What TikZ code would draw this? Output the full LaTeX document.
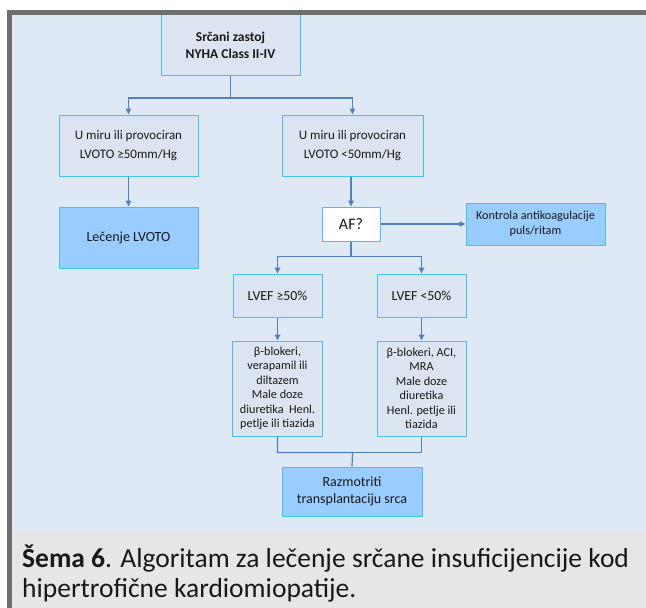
\documentclass[tikz,border=0pt]{standalone}
\usepackage{fontspec}
\setmainfont{Carlito}
\usetikzlibrary{positioning}
\usetikzlibrary {arrows.meta}
\definecolor{framegray}{HTML}{6E6E6E}
\definecolor{panelblue}{HTML}{DFE8F5}
\definecolor{boxfill}{HTML}{DBE4F0}
\definecolor{boxline}{HTML}{40C4F4}
\definecolor{actfill}{HTML}{99CCFF}
\definecolor{linkblue}{HTML}{4F81BD}
\definecolor{capgray}{HTML}{E6E6E6}
\tikzset{stepbox/.style={rectangle,draw=boxline,fill=boxfill,line width=1pt,
inner sep=2pt,align=center,text=black!90,font=\fontsize{13}{18.5}\selectfont}}
\tikzset{actbox/.style={stepbox,fill=actfill,font=\fontsize{14}{17}\selectfont}}
\tikzset{drugbox/.style={stepbox,minimum width=90pt,minimum height=95pt,
font=\fontsize{12.2}{14.5}\selectfont}}
\tikzset{link/.style={draw=linkblue,line width=1.2pt}}
\tikzset{linkarr/.style={link,-{Triangle[length=6pt,width=5.5pt]}}}
\tikzset{captionline/.style={anchor=base west,inner sep=0pt,text=black!90,
font=\fontsize{27.5}{30}\selectfont}}

\begin{document}
\begin{tikzpicture}[x=1pt,y=-1pt]
        \useasboundingbox (0,0) rectangle (646,608);
        % panel and caption strip
        \fill[panelblue] (12,15) rectangle (646,531);
        \fill[capgray] (12,531) rectangle (646,608);

        \node[stepbox, minimum width=139pt, minimum height=61pt,
              font=\bfseries\fontsize{13.5}{17}\selectfont] (srcani) at (230.5,45) {Srčani zastoj\\NYHA Class II-IV};

        \node[stepbox, minimum width=139pt, minimum height=61pt] (lvotoHigh) at (128.5,145.5) {U miru ili provociran\\LVOTO ≥50mm/Hg};
        \node[stepbox, minimum width=141pt, minimum height=61pt] (lvotoLow) at (352.5,145.5) {U miru ili provociran\\LVOTO <50mm/Hg};

        \node[actbox, minimum width=139pt, minimum height=61pt] (lecenje) [below=30pt of lvotoHigh] {Lečenje LVOTO};

        \node[stepbox, fill=white, minimum width=58pt, minimum height=34pt,
              font=\fontsize{16}{18}\selectfont] (af) at (351,224) {AF?};
        \node[actbox, minimum width=139pt, minimum height=42pt,
              font=\fontsize{12.2}{15}\selectfont] (kontrola) at (535.5,224) {Kontrola antikoagulacije\\puls/ritam};

        \node[stepbox, minimum width=89pt, minimum height=43pt,
              font=\fontsize{13.8}{17}\selectfont] (lvefHigh) at (277.5,295.5) {LVEF ≥50\%};
        \node[stepbox, minimum width=89pt, minimum height=43pt,
              font=\fontsize{13.8}{17}\selectfont] (lvefLow) at (421.5,295.5) {LVEF <50\%};

        \node[drugbox] (drugsHigh) [below=23pt of lvefHigh] {β-blokeri,\\verapamil ili\\diltazem\\Male doze\\diuretika~~Henl.\\petlje ili tiazida};
        \node[drugbox, minimum width=89pt] (drugsLow) [below=23pt of lvefLow] {β-blokeri, ACI,\\MRA\\Male doze\\diuretika\\Henl. petlje ili\\tiazida};

        \node[actbox, minimum width=140pt, minimum height=49pt] (transpl) at (352,491.5) {Razmotriti\\transplantaciju srca};

        % connectors
        \draw[linkarr] (srcani.south) -- ++(0,22) -| (lvotoHigh.north);
        \draw[linkarr] (srcani.south) -- ++(0,22) -| (lvotoLow.north);
        \draw[linkarr] (lvotoHigh) -- (lecenje);
        \draw[linkarr] (lvotoLow.south -| af.north) -- (af.north);
        \draw[linkarr] (af) -- (kontrola);
        \draw[linkarr] (af.south) -- ++(0,15) -| (lvefHigh.north);
        \draw[linkarr] (af.south) -- ++(0,15) -| (lvefLow.north);
        \draw[linkarr] (lvefHigh) -- (drugsHigh);
        \draw[linkarr] (lvefLow) -- (drugsLow);
        \draw[link] (drugsHigh.south) |- ++(75,16) coordinate (joinLow) -- (transpl.north);
        \draw[link] (drugsLow.south) |- (joinLow);

        % frame
        \fill[framegray] (7,10) rectangle (646,15);
        \fill[framegray] (7,10) rectangle (12,608);

        \node[captionline] (captionA) at (22,567)
            {\textbf{Šema 6}. Algoritam za lečenje srčane insuficijencije kod};
        \node[captionline] (captionB) at (22,597)
            {hipertrofične kardiomiopatije.};
\end{tikzpicture}
\end{document}
